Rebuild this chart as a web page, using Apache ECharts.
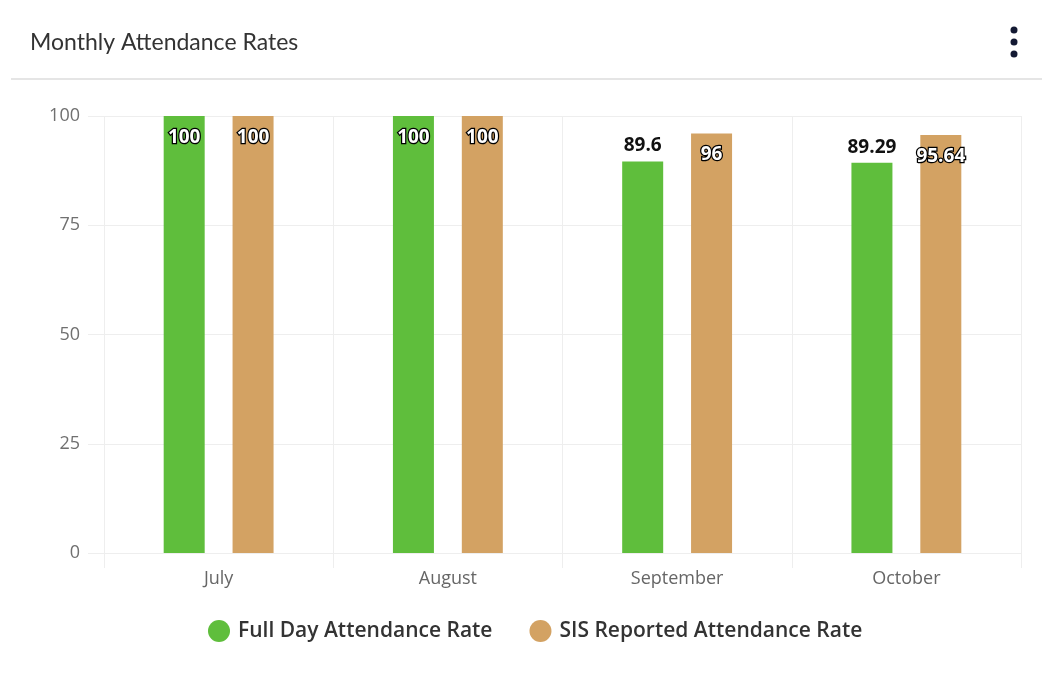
<!DOCTYPE html>
<html>
<head>
<meta charset="utf-8">
<title>Monthly Attendance Rates</title>
<script src="https://cdn.jsdelivr.net/npm/echarts@6/dist/echarts.min.js"></script>
<style>
  html, body { margin: 0; padding: 0; background: #fff; }
  #chart { width: 1042px; height: 692px; }
</style>
</head>
<body>
<div id="chart"></div>
<script>
// data
const months = ['July', 'August', 'September', 'October'];
const fullDay = [100, 100, 89.6, 89.29];
const sisReported = [100, 100, 96, 95.64];
const yTicks = [0, 25, 50, 75, 100];

const green = '#5fbe3c';
const tan = '#d3a263';

// tall bars get their label inside the bar, white with dark outline
function labelled(values) {
  return values.map(v => {
    if (v >= 95) {
      return {
        value: v,
        label: {
          position: 'insideTop',
          distance: 12,
          color: '#fff',
          textBorderColor: '#000',
          textBorderWidth: 2.5
        }
      };
    }
    return { value: v };
  });
}

const chart = echarts.init(document.getElementById('chart'));

const baseLabel = {
  show: true,
  position: 'top',
  distance: 6,
  fontFamily: 'Open Sans',
  fontSize: 19,
  fontWeight: 'bold',
  color: '#111'
};

chart.setOption({
  animation: false,
  title: {
    text: 'Monthly Attendance Rates',
    left: 25,
    top: 26,
    textStyle: {
      fontFamily: 'Lato',
      fontWeight: 'normal',
      fontSize: 23,
      color: '#333'
    }
  },
  graphic: [
    {
      type: 'line',
      shape: { x1: 11, y1: 79, x2: 1042, y2: 79 },
      style: { stroke: '#dcdcdc', lineWidth: 1.5 }
    },
    { type: 'circle', shape: { cx: 1014, cy: 30, r: 3.5 }, style: { fill: '#141a33' } },
    { type: 'circle', shape: { cx: 1014, cy: 42, r: 3.5 }, style: { fill: '#141a33' } },
    { type: 'circle', shape: { cx: 1014, cy: 54, r: 3.5 }, style: { fill: '#141a33' } }
  ],
  legend: {
    left: 203,
    top: 615,
    icon: 'circle',
    itemWidth: 22,
    itemHeight: 22,
    itemGap: 37,
    textStyle: {
      fontFamily: 'Open Sans',
      fontSize: 21,
      fontWeight: 600,
      color: '#333',
      padding: [0, 0, 0, 3]
    }
  },
  grid: {
    left: 104,
    right: 21,
    top: 116,
    bottom: 139
  },
  xAxis: {
    type: 'category',
    data: months,
    axisLine: { show: true, lineStyle: { color: '#eeeeee' } },
    axisTick: { show: true, length: 15, lineStyle: { color: '#eeeeee' } },
    splitLine: { show: true, lineStyle: { color: '#eeeeee' } },
    axisLabel: {
      margin: 17,
      fontFamily: 'Open Sans',
      fontSize: 18,
      color: '#666'
    }
  },
  yAxis: {
    type: 'value',
    min: 0,
    max: 100,
    interval: 25,
    axisLine: { show: false },
    axisTick: { show: true, length: 16, lineStyle: { color: '#eeeeee' } },
    splitLine: { show: true, lineStyle: { color: '#eeeeee' } },
    axisLabel: {
      margin: 24,
      fontFamily: 'Open Sans',
      fontSize: 18,
      color: '#707070',
      formatter: v => yTicks.includes(v) ? String(v) : ''
    }
  },
  series: [
    {
      name: 'Full Day Attendance Rate',
      type: 'bar',
      data: labelled(fullDay),
      barWidth: 41,
      barGap: '68%',
      itemStyle: { color: green },
      label: baseLabel
    },
    {
      name: 'SIS Reported Attendance Rate',
      type: 'bar',
      data: labelled(sisReported),
      barWidth: 41,
      itemStyle: { color: tan },
      label: baseLabel
    }
  ]
});
</script>
</body>
</html>
